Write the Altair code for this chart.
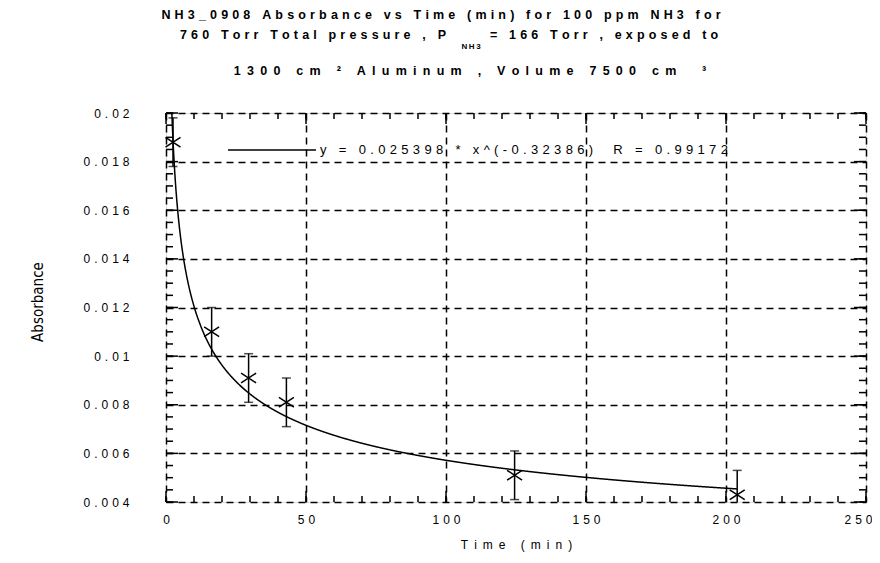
import altair as alt
import pandas as pd

# ---- data ----
time_min = [2.5, 16.3, 29.5, 43.0, 124.5, 204.0]
absorbance = [0.0188, 0.0110, 0.0091, 0.0081, 0.0051, 0.0043]
abs_err = [0.0010, 0.0010, 0.0010, 0.0010, 0.0010, 0.0010]
fit_a = 0.025398
fit_b = -0.32386
fit_r = 0.99172
x_ticks = [0, 50, 100, 150, 200, 250]
y_ticks = [0.004, 0.006, 0.008, 0.01, 0.012, 0.014, 0.016, 0.018, 0.02]
title_line1 = "NH3_0908 Absorbance vs Time (min) for 100 ppm NH3 for"
title_line2a = "760 Torr Total pressure , P"
title_sub = "NH3"
title_line2b = "= 166 Torr , exposed to"
title_line3 = "1300 cm \u00b2 Aluminum , Volume 7500 cm  \u00b3"
x_title = "Time (min)"
y_title = "Absorbance"

SP = "\u2004"
SP2 = "\u2002"


def spaced(s, ch=SP):
    return ch.join(s)


FONT = "Liberation Sans, Arial, sans-serif"
W, H = 700, 389

df = pd.DataFrame({
    "t": time_min,
    "A": absorbance,
    "lo": [a - e for a, e in zip(absorbance, abs_err)],
    "hi": [a + e for a, e in zip(absorbance, abs_err)],
})

xs = alt.Scale(domain=[0, 250], nice=False, zero=False)
ys = alt.Scale(domain=[0.004, 0.02], nice=False, zero=False)

label_expr = "join(split(datum.label, ''), '" + SP + "')"

x_axis = alt.Axis(
    values=x_ticks, grid=True, gridColor="black", gridDash=[7, 5], gridWidth=1.5,
    ticks=False, domain=False, labelFont=FONT, labelFontSize=12, labelColor="black",
    labelPadding=12, labelExpr=label_expr, labelFlush=False,
    labelAlign={"expr": "datum.value == 250 ? 'right' : 'center'"},
    labelOffset={"expr": "datum.value == 250 ? 6 : 0"},
    title=spaced(x_title, SP2), titleFont=FONT, titleFontSize=12, titleFontWeight="normal",
    titleColor="black", titleY=42, titleBaseline="middle",
)
y_axis = alt.Axis(
    values=y_ticks, grid=True, gridColor="black", gridDash=[7, 5], gridWidth=1.5,
    ticks=False, domain=False, labelFont=FONT, labelFontSize=12, labelColor="black",
    labelPadding=37, format="~g", labelExpr=label_expr, labelFlush=False,
    title=y_title, titleFont="Liberation Sans Narrow, Arial Narrow, DejaVu Sans Condensed, sans-serif",
    titleFontSize=15, titleFontWeight="normal", titleColor="black",
    titleAngle=-90, titleX=-129, titleY=H / 2 - 6, titleAlign="center", titleBaseline="middle",
)


def X(field):
    return alt.X(f"{field}:Q", scale=xs, axis=x_axis)


def Y(field):
    return alt.Y(f"{field}:Q", scale=ys, axis=y_axis)


pts = alt.Chart(df)

curve = alt.Chart(alt.sequence(2.1, max(time_min) + 0.05, 0.1, as_="t")).transform_calculate(
    A=f"{fit_a} * pow(datum.t, {fit_b})"
).mark_line(color="black", strokeWidth=1.5, clip=True).encode(x=X("t"), y=Y("A"))

bars = pts.mark_rule(color="black", strokeWidth=1.5, clip=True).encode(
    x=X("t"), y=Y("lo"), y2="hi"
)
cap_lo = pts.mark_tick(orient="horizontal", size=9, thickness=1.5, color="black", clip=True).encode(
    x=X("t"), y=Y("lo")
)
cap_hi = pts.mark_tick(orient="horizontal", size=9, thickness=1.5, color="black", clip=True).encode(
    x=X("t"), y=Y("hi")
)
markers = pts.mark_point(
    shape="M-1,-0.65L1,0.65M-1,0.65L1,-0.65", size=225, filled=False,
    stroke="black", strokeWidth=1.5, opacity=1,
).encode(x=X("t"), y=Y("A"))


# inward frame ticks
def yticks(step, x0, x1):
    return alt.Chart(alt.sequence(0.004, 0.02001, step, as_="v")).mark_rule(
        color="black", strokeWidth=1.5
    ).encode(y=Y("v"), x=alt.value(x0), x2=alt.value(x1))


def xticks(step, y0, y1):
    return alt.Chart(alt.sequence(0, 250.01, step, as_="v")).mark_rule(
        color="black", strokeWidth=1.5
    ).encode(x=X("v"), y=alt.value(y0), y2=alt.value(y1))


tick_layers = [
    yticks(0.0005, 0, 7), yticks(0.002, 0, 12),
    yticks(0.0005, W, W - 7), yticks(0.002, W, W - 12),
    xticks(10, H, H - 6), xticks(50, H, H - 11),
    xticks(10, 0, 6), xticks(50, 0, 11),
]

one = pd.DataFrame({"k": [0]})
legend_line = alt.Chart(one).mark_rule(color="black", strokeWidth=1.5).encode(
    x=alt.value(62), x2=alt.value(150), y=alt.value(37)
)
legend_text = alt.Chart(one).mark_text(
    align="left", baseline="middle", font=FONT, fontSize=13, color="black"
).encode(
    x=alt.value(154), y=alt.value(37),
    text=alt.value(spaced(f"y = {fit_a} * x^({fit_b})  R = {fit_r}")),
)


def ttext(txt, x, y, align="center", size=12.5, weight="bold"):
    return alt.Chart(one).mark_text(
        align=align, baseline="middle", font=FONT, fontSize=size, fontWeight=weight, color="black"
    ).encode(x=alt.value(x), y=alt.value(y), text=alt.value(txt))


titles = [
    ttext(spaced(title_line1), 275, -98),
    ttext(spaced(title_line2a), 280, -78, align="right"),
    ttext(spaced(title_sub, "\u2009"), 305, -66, size=8),
    ttext(spaced(title_line2b), 324, -78, align="left"),
    ttext(spaced(title_line3, SP2), 304, -42),
]

chart = alt.layer(
    *tick_layers, curve, bars, cap_lo, cap_hi, markers, legend_line, legend_text, *titles
).properties(
    width=W, height=H,
    autosize=alt.AutoSizeParams(type="none"),
    padding={"left": 158, "top": 105, "right": 6, "bottom": 50},
).configure_view(stroke="black", strokeWidth=2).configure(background="white")

chart.save("out.html", embed_options={"renderer": "svg", "actions": False})
